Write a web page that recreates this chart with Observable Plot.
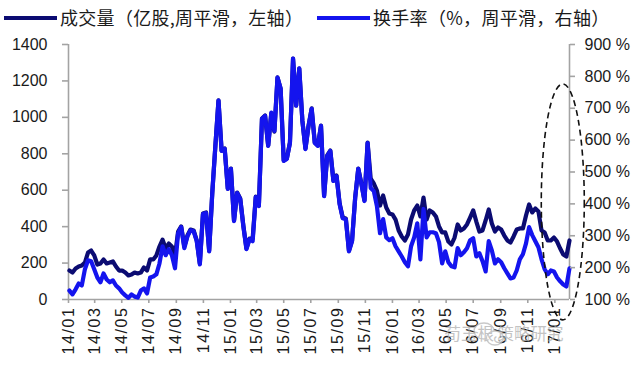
<!DOCTYPE html>
<html>
<head>
<meta charset="utf-8">
<script src="https://cdn.jsdelivr.net/npm/d3@7"></script>
<script src="https://cdn.jsdelivr.net/npm/@observablehq/plot@0.6"></script>
<style>
  html, body { margin: 0; padding: 0; background: #fff; }
  #wrap { position: relative; width: 638px; height: 365px; overflow: hidden; }
  #legend { position: relative; width: 638px; height: 30px; }
  .lg-line { position: absolute; top: 16px; height: 4px; width: 53px; }
  .lg-text { position: absolute; top: 4px; font-family: "Noto Sans CJK SC", sans-serif; font-size: 18px; line-height: 26px; color: #1a1a1a; letter-spacing: 0.3px; white-space: nowrap; }
</style>
</head>
<body>
<div id="wrap">
  <div id="legend"></div>
  <div id="chart"></div>
</div>
<script>
// ---- data ----
const seriesNames = ["成交量（亿股,周平滑，左轴）", "换手率（%，周平滑，右轴）"];
const dates = [
"2014-01-03","2014-01-10","2014-01-17","2014-01-24","2014-01-31",
"2014-02-07","2014-02-14","2014-02-21","2014-02-28",
"2014-03-07","2014-03-14","2014-03-21","2014-03-28",
"2014-04-04","2014-04-11","2014-04-18","2014-04-25",
"2014-05-02","2014-05-09","2014-05-16","2014-05-23","2014-05-30",
"2014-06-06","2014-06-13","2014-06-20","2014-06-27",
"2014-07-04","2014-07-11","2014-07-18","2014-07-25",
"2014-08-01","2014-08-08","2014-08-15","2014-08-22","2014-08-29",
"2014-09-05","2014-09-12","2014-09-19","2014-09-26",
"2014-10-03","2014-10-10","2014-10-17","2014-10-24","2014-10-31",
"2014-11-07","2014-11-14","2014-11-21","2014-11-28",
"2014-12-05","2014-12-12","2014-12-19","2014-12-26",
"2015-01-02","2015-01-09","2015-01-16","2015-01-23","2015-01-30",
"2015-02-06","2015-02-13","2015-02-20","2015-02-27",
"2015-03-06","2015-03-13","2015-03-20","2015-03-27",
"2015-04-03","2015-04-10","2015-04-17","2015-04-24",
"2015-05-01","2015-05-08","2015-05-15","2015-05-22","2015-05-29",
"2015-06-05","2015-06-12","2015-06-19","2015-06-26",
"2015-07-03","2015-07-10","2015-07-17","2015-07-24","2015-07-31",
"2015-08-07","2015-08-14","2015-08-21","2015-08-28",
"2015-09-04","2015-09-11","2015-09-18","2015-09-25",
"2015-10-02","2015-10-09","2015-10-16","2015-10-23","2015-10-30",
"2015-11-06","2015-11-13","2015-11-20","2015-11-27",
"2015-12-04","2015-12-11","2015-12-18","2015-12-25",
"2016-01-01","2016-01-08","2016-01-15","2016-01-22","2016-01-29",
"2016-02-05","2016-02-12","2016-02-19","2016-02-26",
"2016-03-04","2016-03-11","2016-03-18","2016-03-25",
"2016-04-01","2016-04-08","2016-04-15","2016-04-22","2016-04-29",
"2016-05-06","2016-05-13","2016-05-20","2016-05-27",
"2016-06-03","2016-06-10","2016-06-17","2016-06-24",
"2016-07-01","2016-07-08","2016-07-15","2016-07-22","2016-07-29",
"2016-08-05","2016-08-12","2016-08-19","2016-08-26",
"2016-09-02","2016-09-09","2016-09-16","2016-09-23","2016-09-30",
"2016-10-07","2016-10-14","2016-10-21","2016-10-28",
"2016-11-04","2016-11-11","2016-11-18","2016-11-25",
"2016-12-02","2016-12-09","2016-12-16","2016-12-23","2016-12-30",
"2017-01-06","2017-01-13","2017-01-20","2017-01-27","2017-02-03"
];
// 成交量 (亿股), left axis
const volume = [
159,148,170,181,187,203,258,269,242,192,
198,220,198,203,209,181,159,159,148,132,
137,148,143,148,176,159,220,220,242,291,
329,280,307,291,242,373,401,291,351,384,
379,324,198,472,478,269,587,845,1093,818,
829,609,719,434,587,555,406,280,335,335,
565,516,994,1010,845,1021,922,1219,1158,763,
774,862,1323,1065,1268,983,829,955,1049,862,
845,955,571,791,818,653,681,527,450,445,
269,324,560,719,637,544,862,664,637,598,
516,571,505,472,467,439,379,346,324,357,
439,489,516,456,560,439,489,478,456,401,
368,368,318,302,340,412,379,390,412,450,
489,428,373,379,434,494,417,373,395,384,
351,324,313,346,384,390,390,461,522,478,
500,483,379,368,324,324,340,318,280,247,
236,324
];
// 换手率 (%), right axis
const turnover = [
128,116,132,150,144,195,223,220,195,169,
154,182,163,154,160,144,135,122,113,105,
116,109,106,128,135,119,169,172,179,213,
267,239,258,239,198,308,327,261,298,317,
314,283,210,368,371,251,434,582,724,566,
572,447,510,346,434,415,330,258,289,283,
421,393,667,676,582,686,629,796,762,535,
541,591,856,708,825,661,572,645,698,591,
582,645,424,550,566,472,487,399,355,352,
251,283,418,510,462,409,591,450,440,393,
308,352,295,286,292,267,251,235,217,204,
267,295,339,226,384,295,311,311,308,280,
213,251,217,204,201,261,239,248,261,286,
292,235,245,220,188,283,254,213,226,217,
198,182,166,169,191,226,242,276,327,302,
283,264,226,195,179,191,188,169,157,147,
141,198
];
const volTicks = [0, 200, 400, 600, 800, 1000, 1200, 1400];
const pctTicks = [100, 200, 300, 400, 500, 600, 700, 800, 900];
const xTicks = [
"2014-01-01","2014-03-01","2014-05-01","2014-07-01","2014-09-01","2014-11-01",
"2015-01-01","2015-03-01","2015-05-01","2015-07-01","2015-09-01","2015-11-01",
"2016-01-01","2016-03-01","2016-05-01","2016-07-01","2016-09-01","2016-11-01",
"2017-01-01"
];
const watermark = "荀玉根 策略研究";

// ---- chart ----
const darkColor = "#0b0b72";
const blueColor = "#1414ee";
const axisGray = "#a3a3a3";
const volMax = 1400, pctMin = 100, pctMax = 900;
const pctToVol = p => (p - pctMin) * volMax / (pctMax - pctMin);

const rows = dates.map((d, i) => ({
  date: new Date(d),
  vol: volume[i],
  turn: pctToVol(turnover[i])
}));

// legend
const legend = document.getElementById("legend");
legend.innerHTML = `
  <div class="lg-line" style="left:4px;background:${darkColor}"></div>
  <div class="lg-text" style="left:60px">${seriesNames[0]}</div>
  <div class="lg-line" style="left:317px;background:${blueColor}"></div>
  <div class="lg-text" style="left:373px">${seriesNames[1]}</div>`;

const xStart = new Date("2014-01-01"), xEnd = new Date("2017-02-03");

const chart = Plot.plot({
  width: 638,
  height: 335,
  marginTop: 14,
  marginBottom: 66,
  marginLeft: 68,
  marginRight: 69,
  style: { fontFamily: "'Liberation Sans', Arial, sans-serif", fontSize: "16px", color: "#1a1a1a", background: "white", overflow: "visible" },
  x: { type: "utc", domain: [xStart, xEnd] },
  y: { domain: [0, volMax] },
  marks: [
    Plot.ruleX([xStart], { stroke: axisGray, strokeWidth: 1.6 }),
    Plot.ruleX([xEnd], { stroke: axisGray, strokeWidth: 1.6 }),
    Plot.ruleY([0], { stroke: axisGray, strokeWidth: 1.6 }),
    Plot.line(rows, { x: "date", y: "vol", stroke: darkColor, strokeWidth: 4.2, strokeLinejoin: "round" }),
    Plot.line(rows, { x: "date", y: "turn", stroke: blueColor, strokeWidth: 4.2, strokeLinejoin: "round" }),
    Plot.axisY({ ticks: volTicks, tickFormat: d => String(d), tickSize: 6, tickPadding: 15, stroke: axisGray, strokeWidth: 1.6, fill: "#1a1a1a", fontSize: 16, label: null }),
    Plot.axisY({ anchor: "right", ticks: pctTicks.map(pctToVol), tickFormat: (d, i) => `${pctTicks[i]} %`, tickSize: 5, tickPadding: 10, stroke: axisGray, strokeWidth: 1.6, fill: "#1a1a1a", fontSize: 16, label: null }),
    Plot.axisX({ ticks: xTicks.map(d => new Date(d)), tickFormat: d3.utcFormat("%y/%m"), tickRotate: -90, tickSize: 4, tickPadding: 3, stroke: axisGray, strokeWidth: 1.6, fill: "#1a1a1a", fontSize: 16, label: null })
  ]
});
document.getElementById("chart").appendChild(chart);

const svg = d3.select(chart);
// wider glyph spacing on the rotated date labels, as in the reference
svg.selectAll('g[aria-label="x-axis tick label"] text').style("letter-spacing", "1.6px");

// annotation: dashed ellipse around the latest period, placed with the chart's scales
const sx = chart.scale("x"), sy = chart.scale("y");
svg.append("ellipse")
  .attr("cx", sx.apply(new Date("2017-01-20")))
  .attr("cy", sy.apply(533))
  .attr("rx", 21.5)
  .attr("ry", 118)
  .attr("fill", "none")
  .attr("stroke", "#111")
  .attr("stroke-width", 1.6)
  .attr("stroke-dasharray", "6 4");

// watermark
const wm = svg.append("g").attr("opacity", 0.75);
wm.append("ellipse").attr("cx", 484).attr("cy", 301).attr("rx", 10).attr("ry", 8).attr("fill", "#fff").attr("stroke", "#b8b8b8").attr("stroke-width", 1.3);
wm.append("ellipse").attr("cx", 495).attr("cy", 308).attr("rx", 8.5).attr("ry", 7).attr("fill", "#fff").attr("stroke", "#b8b8b8").attr("stroke-width", 1.3);
wm.append("text").attr("x", 504).attr("y", 310)
  .attr("font-family", "'Noto Sans CJK SC', sans-serif").attr("font-size", 16.5)
  .attr("fill", "#b0b0b0").text(watermark);
</script>
</body>
</html>
